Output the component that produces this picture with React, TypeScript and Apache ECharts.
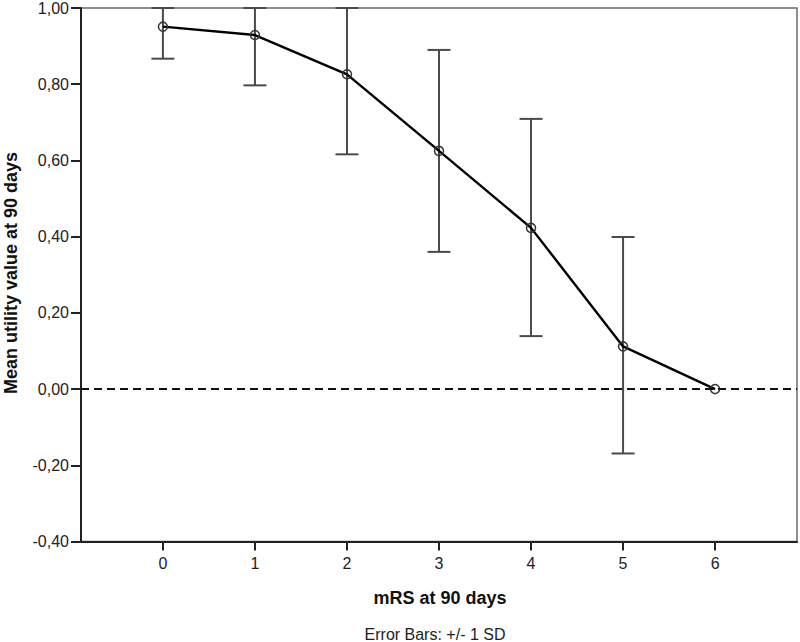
import React, { useEffect, useRef } from "react";
import * as echarts from "echarts";

const mrsLevels = [0, 1, 2, 3, 4, 5, 6];
const meanUtility = [0.951, 0.929, 0.826, 0.625, 0.423, 0.112, 0.0];
const lowerSD = [0.867, 0.797, 0.616, 0.36, 0.139, -0.169, 0.0];
const upperSD = [1.0, 1.0, 1.0, 0.89, 0.709, 0.399, 0.0];
const yTicks = [-0.4, -0.2, 0, 0.2, 0.4, 0.6, 0.8, 1.0];

const FONT = "Liberation Sans, Arial, sans-serif";

export default function App() {
  const ref = useRef<HTMLDivElement>(null);
  useEffect(() => {
    if (!ref.current) return;
    const chart = echarts.init(ref.current, undefined, { renderer: "svg" });
    const lineData = mrsLevels.map((x, i) => [x, meanUtility[i]]);
    const errData = mrsLevels
      .map((x, i) => [x, lowerSD[i], upperSD[i]])
      .filter((d) => d[2] - d[1] > 0);
    chart.setOption({
      animation: false,
      backgroundColor: "#ffffff",
      grid: {
        left: 81,
        top: 5.5,
        right: 3,
        bottom: 100.5,
        show: true,
        borderColor: "#6a6a6a",
        borderWidth: 1.5,
        backgroundColor: "transparent",
      },
      xAxis: {
        type: "value",
        min: -0.89,
        max: 6.89,
        axisLine: { show: true, onZero: false, lineStyle: { color: "#222", width: 2 } },
        axisTick: {
          show: true,
          length: 9,
          customValues: mrsLevels,
          lineStyle: { color: "#222", width: 2 },
        },
        axisLabel: {
          customValues: mrsLevels,
          fontFamily: FONT,
          fontSize: 16,
          color: "#222",
          margin: 14,
          formatter: (v: number) => String(v),
        },
        splitLine: { show: false },
      },
      yAxis: {
        type: "value",
        min: -0.4,
        max: 1.0,
        interval: 0.2,
        axisLine: { show: true, onZero: false, lineStyle: { color: "#222", width: 2 } },
        axisTick: { show: true, length: 10, lineStyle: { color: "#222", width: 2 } },
        axisLabel: {
          fontFamily: FONT,
          fontSize: 16,
          color: "#222",
          margin: 12,
          formatter: (v: number) => {
            const t = yTicks.find((k) => Math.abs(k - v) < 1e-6);
            const val = t === undefined ? v : t;
            return (Math.abs(val) < 1e-9 ? 0 : val).toFixed(2).replace(".", ",");
          },
        },
        splitLine: { show: false },
      },
      graphic: [
        {
          type: "text",
          x: 11,
          y: 273,
          rotation: Math.PI / 2,
          style: {
            text: "Mean utility value at 90 days",
            font: `bold 18px ${FONT}`,
            fill: "#111",
            textAlign: "center",
            textVerticalAlign: "middle",
          },
        },
        {
          type: "text",
          x: 440,
          y: 598,
          style: {
            text: "mRS at 90 days",
            font: `bold 18px ${FONT}`,
            fill: "#111",
            textAlign: "center",
            textVerticalAlign: "middle",
          },
        },
        {
          type: "text",
          x: 435,
          y: 634,
          style: {
            text: "Error Bars: +/- 1 SD",
            font: `16px ${FONT}`,
            fill: "#222",
            textAlign: "center",
            textVerticalAlign: "middle",
          },
        },
      ],
      series: [
        {
          type: "custom",
          data: errData,
          z: 2,
          renderItem: (params: any, api: any) => {
            const x = api.value(0);
            const lo = api.coord([x, api.value(1)]);
            const hi = api.coord([x, api.value(2)]);
            const hw = 11.5;
            const style = { stroke: "#4a4a4a", lineWidth: 2 };
            return {
              type: "group",
              children: [
                { type: "line", shape: { x1: lo[0], y1: lo[1], x2: hi[0], y2: hi[1] }, style },
                { type: "line", shape: { x1: lo[0] - hw, y1: lo[1], x2: lo[0] + hw, y2: lo[1] }, style },
                { type: "line", shape: { x1: hi[0] - hw, y1: hi[1], x2: hi[0] + hw, y2: hi[1] }, style },
              ],
            };
          },
        },
        {
          type: "line",
          data: lineData,
          z: 4,
          symbol: "circle",
          symbolSize: 9,
          showSymbol: true,
          itemStyle: { color: "rgba(255,255,255,0)", borderColor: "#333", borderWidth: 1.5 },
          lineStyle: { color: "#000", width: 2.4 },
          markLine: {
            silent: true,
            symbol: "none",
            label: { show: false },
            lineStyle: { color: "#111", width: 2, type: [8, 5] },
            data: [{ yAxis: 0 }],
          },
        },
      ],
    });
    return () => chart.dispose();
  }, []);
  return <div ref={ref} style={{ width: 800, height: 642, position: "absolute", left: 0, top: 0 }} />;
}
